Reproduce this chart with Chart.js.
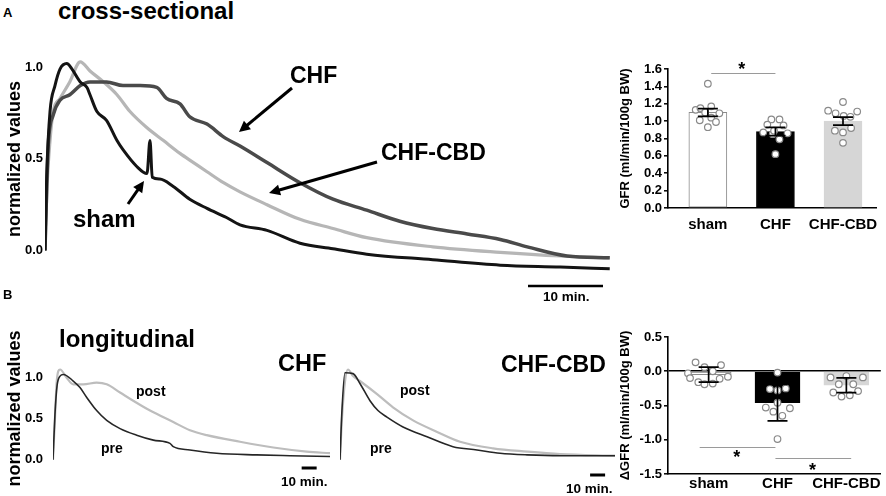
<!DOCTYPE html>
<html><head><meta charset="utf-8">
<script src="https://cdn.jsdelivr.net/npm/chart.js@4.4.1/dist/chart.umd.min.js"></script>
<style>
html,body{margin:0;padding:0;background:#fff;}
#wrap{position:relative;width:886px;height:496px;overflow:hidden;font-family:'Liberation Sans',Arial,sans-serif;color:#000;background:#fff;}
canvas{position:absolute;}
.t{position:absolute;line-height:1;white-space:nowrap;font-weight:bold;}
svg{position:absolute;left:0;top:0;pointer-events:none;}
</style></head><body>
<div id="wrap">
<canvas id="cA" width="620" height="260" style="left:0;top:30px;width:620px;height:260px"></canvas>
<canvas id="cAbar" width="286" height="175" style="left:600px;top:55px;width:286px;height:175px"></canvas>
<canvas id="cB1" width="340" height="172" style="left:0;top:320px;width:340px;height:172px"></canvas>
<canvas id="cB2" width="290" height="172" style="left:335px;top:320px;width:290px;height:172px"></canvas>
<canvas id="cBbar" width="286" height="176" style="left:600px;top:320px;width:286px;height:176px"></canvas>

<div class="t" style="left:3px;top:6px;font-size:13px">A</div>
<div class="t" style="left:58px;top:-1px;font-size:24px">cross-sectional</div>
<div class="t" style="left:290px;top:64px;font-size:23px">CHF</div>
<div class="t" style="left:381px;top:141px;font-size:23px">CHF-CBD</div>
<div class="t" style="left:73px;top:207px;font-size:24px">sham</div>
<div class="t" style="left:543px;top:290px;font-size:13.5px">10 min.</div>

<div class="t" style="left:3px;top:288px;font-size:13px">B</div>
<div class="t" style="left:59px;top:327px;font-size:24px">longitudinal</div>
<div class="t" style="left:278px;top:352px;font-size:23.5px">CHF</div>
<div class="t" style="left:501px;top:353px;font-size:23px">CHF-CBD</div>
<div class="t" style="left:136px;top:384px;font-size:14px">post</div>
<div class="t" style="left:101px;top:441px;font-size:14px">pre</div>
<div class="t" style="left:400px;top:383px;font-size:14px">post</div>
<div class="t" style="left:370px;top:441px;font-size:14px">pre</div>
<div class="t" style="left:281px;top:475px;font-size:13.5px">10 min.</div>
<div class="t" style="left:566px;top:482px;font-size:13.5px">10 min.</div>
<svg id="ov" width="886" height="496"></svg>
</div>
<script>
// ---------- DATA ----------
// Panel A (cross-sectional): time in minutes, normalized values
const aShamT = [0,0.23,0.67,1.33,2.0,2.9,3.6,4.7,5.6,6.0,6.9,8.2,9.6,10.4,12.2,13.6,14.0,14.3,15.3,17.1,19.3,21.6,24.2,26.0,29.6,34.0,38.4,42.9,51.7,60.7,68.7,75.3];
const aShamV = [0,0.41,0.76,0.90,0.99,1.02,0.99,0.92,0.89,0.85,0.76,0.71,0.60,0.55,0.46,0.42,0.60,0.40,0.39,0.35,0.28,0.23,0.18,0.14,0.11,0.04,0.01,-0.02,-0.05,-0.08,-0.09,-0.10];
const aChfT = [0,0.2,0.44,1.1,2.0,3.3,4.7,6.0,8.2,10.4,12.7,14.9,16.2,18.0,19.3,21.6,23.8,26.0,29.6,34.0,38.4,42.9,47.3,51.7,56.3,60.7,64.3,69.6,75.3];
const aChfV = [0,0.30,0.58,0.74,0.82,0.85,0.90,0.92,0.92,0.90,0.90,0.89,0.83,0.80,0.73,0.69,0.62,0.57,0.48,0.37,0.28,0.22,0.16,0.12,0.09,0.06,0.02,-0.03,-0.04];
const aCbdT = [0,0.27,0.67,1.1,2.0,3.3,4.7,6.0,7.8,9.6,11.3,13.6,15.8,18.0,19.8,21.6,23.8,26.0,29.6,34.0,38.4,42.9,51.7,60.7,68.7,75.3];
const aCbdV = [0,0.35,0.60,0.76,0.83,0.92,1.03,0.98,0.92,0.85,0.76,0.67,0.60,0.53,0.48,0.43,0.37,0.32,0.25,0.17,0.12,0.07,0.02,-0.01,-0.03,-0.04];
const normTicks = [0, 0.5, 1.0];

// Panel B (longitudinal), CHF group
const bChfPreT = [0,1.3,2.7,4.7,6.9,13.5,18.0,22.5,29.1,35.8,44.7,55.8,66.9,78.0,80.2,91.3,109.1,135.8,158.0,184.7];
const bChfPreV = [0,0.55,0.90,1.02,1.04,0.96,0.88,0.76,0.60,0.48,0.38,0.30,0.24,0.20,0.16,0.12,0.08,0.06,0.05,0.04];
const bChfPostT = [0,1.3,2.5,4.7,9.1,13.5,20.2,29.1,35.8,44.7,53.5,64.7,80.2,91.3,102.5,124.7,146.9,169.1,184.7];
const bChfPostV = [0,0.50,0.96,1.10,1.00,0.92,0.92,0.94,0.92,0.82,0.72,0.60,0.46,0.36,0.30,0.22,0.15,0.10,0.08];
// Panel B, CHF-CBD group
const bCbdPreT = [0,1.3,3.3,8.7,13.3,20.0,25.3,31.3,42.0,58.0,75.3,91.3,106.7,124.7,146.7,183.3];
const bCbdPreV = [0,0.60,1.06,1.05,0.93,0.72,0.60,0.52,0.40,0.28,0.16,0.12,0.08,0.06,0.05,0.05];
const bCbdPostT = [0,1.3,3.3,5.3,8.7,13.3,24.7,35.3,48.7,64.7,80.0,102.0,124.7,146.7,183.3];
const bCbdPostV = [0,0.50,0.95,1.10,1.02,0.96,0.80,0.64,0.48,0.34,0.22,0.14,0.10,0.07,0.05];

// Bar charts
const groups = ['sham', 'CHF', 'CHF-CBD'];
const gfrMean = [1.10, 0.88, 1.00];
const gfrSem = [0.045, 0.047, 0.045];
const gfrSham = [1.43, 1.13, 1.15, 1.17, 1.09, 1.10, 1.04, 1.01, 0.99, 0.93];
const gfrChf = [1.02, 1.02, 0.96, 0.95, 0.87, 0.85, 0.86, 0.79, 0.62, 0.89];
const gfrCbd = [1.22, 1.12, 1.11, 1.09, 1.06, 1.05, 0.92, 0.89, 0.87, 0.75];
const gfrShamJit = [0, -0.18, -0.11, 0.05, 0.17, -0.04, 0.05, -0.12, 0.12, 0];
const gfrChfJit = [-0.06, 0.06, -0.12, 0.12, -0.18, -0.04, 0.18, 0.06, 0, -0.02];
const gfrCbdJit = [0, -0.22, 0.21, -0.11, 0.01, 0.11, 0.12, -0.12, 0, 0];

const dMean = [-0.05, -0.457, -0.204];
const dSem = [0.11, 0.266, 0.107];
const dSham = [0.13, 0.06, 0.09, 0.0, -0.03, -0.08, -0.10, -0.16, -0.19, -0.18, -0.11];
const dChf = [-0.02, -0.26, -0.28, -0.25, -0.46, -0.53, -0.54, -0.59, -0.65, -0.99];
const dCbd = [-0.09, -0.07, -0.09, -0.19, -0.19, -0.31, -0.29, -0.37, -0.35];
const dShamJit = [-0.19, -0.06, 0.18, 0.06, -0.30, 0.28, -0.27, -0.15, -0.06, 0.06, 0.16];
const dChfJit = [0, -0.11, 0, 0.12, 0, -0.17, 0.18, -0.06, 0.07, 0];
const dCbdJit = [-0.23, 0, 0.24, -0.11, 0.10, -0.19, 0.17, -0.07, 0.05];

// ---------- SETUP ----------
const FONT = "'Liberation Sans', Arial, sans-serif";
Chart.defaults.font.family = FONT;
Chart.defaults.font.weight = 'bold';
Chart.defaults.color = '#000';

const pts = (t, v) => t.map((x, i) => ({x: x, y: v[i]}));
const dots = (vals, jit, g) => vals.map((v, i) => ({x: g + jit[i], y: v}));

// draws a 10-minute scale bar from the chart's own x scale
const scaleBar = {
  id: 'scaleBar',
  afterDraw(chart, args, o) {
    if (!o || o.t0 === undefined) return;
    const {ctx} = chart, x = chart.scales.x;
    ctx.save(); ctx.strokeStyle = '#000'; ctx.lineWidth = o.w;
    ctx.beginPath();
    ctx.moveTo(x.getPixelForValue(o.t0), o.py);
    ctx.lineTo(x.getPixelForValue(o.t0 + 10), o.py);
    ctx.stroke(); ctx.restore();
  }
};

// error bars (mean ± SEM) + significance brackets
const errBars = {
  id: 'errBars',
  afterDatasetsDraw(chart, args, o) {
    if (!o || !o.mean) return;
    const {ctx} = chart, x = chart.scales.x, y = chart.scales.y;
    ctx.save();
    ctx.strokeStyle = '#000'; ctx.lineWidth = 1.7;
    o.mean.forEach((m, i) => {
      const px = x.getPixelForValue(i);
      const hi = y.getPixelForValue(m + o.sem[i]);
      const lo = y.getPixelForValue(m - o.sem[i]);
      ctx.beginPath();
      ctx.moveTo(px, hi); ctx.lineTo(px, lo);
      ctx.moveTo(px - o.cap, hi); ctx.lineTo(px + o.cap, hi);
      ctx.moveTo(px - o.cap, lo); ctx.lineTo(px + o.cap, lo);
      ctx.stroke();
    });
    (o.sig || []).forEach(s => {
      ctx.strokeStyle = '#9a9a9a'; ctx.lineWidth = 1;
      const yy = Math.round(y.getPixelForValue(s.y)) + 0.5;
      ctx.beginPath();
      ctx.moveTo(x.getPixelForValue(s.x1), yy);
      ctx.lineTo(x.getPixelForValue(s.x2), yy);
      ctx.stroke();
      ctx.fillStyle = '#000';
      ctx.font = 'bold 18px ' + FONT;
      ctx.textAlign = 'center'; ctx.textBaseline = 'alphabetic';
      ctx.fillText('*', x.getPixelForValue(s.sx), y.getPixelForValue(s.sy) + 10);
    });
    ctx.restore();
  }
};

function lineChart(id, datasets, xmax, pad, yw, showY, tickPad, bar, ymin, ymax) {
  return new Chart(document.getElementById(id), {
    type: 'line',
    data: {datasets: datasets},
    options: {
      responsive: false, animation: false, events: [],
      layout: {padding: pad},
      plugins: {legend: {display: false}, tooltip: {enabled: false}, scaleBar: bar},
      elements: {point: {radius: 0}, line: {cubicInterpolationMode: 'monotone'}},
      scales: {
        x: {type: 'linear', min: 0, max: xmax, display: false},
        y: {
          type: 'linear', min: ymin, max: ymax,
          display: showY,
          afterFit: s => { s.width = yw; },
          afterBuildTicks: s => { s.ticks = normTicks.map(v => ({value: v})); },
          grid: {display: false, drawTicks: false},
          border: {display: false},
          ticks: {font: {size: 13, weight: 'bold'}, color: '#000', padding: tickPad, autoSkip: false,
                  callback: v => Number(v).toFixed(1)},
          title: {display: true, text: 'normalized values', color: '#000',
                  font: {size: 18, weight: 'bold'}, padding: {top: 4, bottom: 0}}
        }
      }
    },
    plugins: [scaleBar]
  });
}

lineChart('cA', [
  {data: pts(aShamT, aShamV), borderColor: '#141414', borderWidth: 3},
  {data: pts(aChfT, aChfV), borderColor: '#4a4a4a', borderWidth: 3.5},
  {data: pts(aCbdT, aCbdV), borderColor: '#b6b6b6', borderWidth: 3.2}
], 75.6, {left: 0, right: 8, top: 4, bottom: 12}, 45, true, 2, {t0: 64.4, py: 256, w: 2.5}, -0.15, 1.15);

lineChart('cB1', [
  {data: pts(bChfPreT, bChfPreV), borderColor: '#262626', borderWidth: 1.6},
  {data: pts(bChfPostT, bChfPostV), borderColor: '#bdbdbd', borderWidth: 2.2}
], 184.7, {left: 0, right: 10, top: 29, bottom: 24}, 53, true, 10, {t0: 165.8, py: 148, w: 3}, -0.1, 1.35);

lineChart('cB2', [
  {data: pts(bCbdPreT, bCbdPreV), borderColor: '#262626', borderWidth: 1.6},
  {data: pts(bCbdPostT, bCbdPostV), borderColor: '#bdbdbd', borderWidth: 2.2}
], 183.3, {left: 5, right: 10, top: 29, bottom: 24}, 0, false, 0, {t0: 166.7, py: 155, w: 3}, -0.1, 1.35);

function barChart(id, mean, sem, groupsDots, o) {
  const dotSets = groupsDots.map(d => ({
    type: 'scatter', order: 0, data: d,
    pointRadius: 3.3, pointBackgroundColor: '#fff', pointBorderColor: '#8a8a8a', pointBorderWidth: 1.2
  }));
  return new Chart(document.getElementById(id), {
    type: 'bar',
    data: {datasets: [
      ...dotSets,
      {type: 'bar', order: 1, data: mean.map((m, i) => ({x: i, y: m})),
       backgroundColor: ['#ffffff', '#000000', '#d6d6d6'],
       borderColor: ['#8a8a8a', '#000000', '#d6d6d6'], borderWidth: 1,
       barThickness: o.bw, borderSkipped: false}
    ]},
    options: {
      responsive: false, animation: false, events: [],
      layout: {padding: o.pad},
      plugins: {legend: {display: false}, tooltip: {enabled: false},
                errBars: {mean: mean, sem: sem, cap: 10, sig: o.sig}},
      scales: {
        x: {type: 'linear', min: -0.59, max: 2.5, offset: false,
            afterFit: s => { s.height = 22; },
            afterBuildTicks: s => { s.ticks = groups.map((g, i) => ({value: i})); },
            ticks: {font: {size: 15, weight: 'bold'}, color: '#000', padding: o.xpad, autoSkip: false,
                    maxRotation: 0, callback: v => groups[v]},
            grid: {display: true, drawOnChartArea: false, drawTicks: false, offset: false},
            border: {display: true, color: '#000', width: 1.6}},
        y: {type: 'linear', min: o.ymin, max: o.ymax,
            afterFit: s => { s.width = 68; },
            ticks: {stepSize: o.step, font: {size: 13, weight: 'bold'}, color: '#000', padding: 2,
                    autoSkip: false, callback: v => Number(v).toFixed(1)},
            grid: {display: true, drawOnChartArea: o.zero, drawTicks: true, tickLength: 4,
                   tickColor: '#000', tickWidth: 1.5, lineWidth: 1.6,
                   color: c => (c.tick && Math.abs(c.tick.value) < 1e-9) ? '#000' : 'rgba(0,0,0,0)'},
            border: {display: true, color: '#000', width: 1.6},
            title: {display: true, text: o.title, color: '#000',
                    font: {size: 13, weight: 'bold'}, padding: {top: 18, bottom: 0}}}
      }
    },
    plugins: [errBars]
  });
}

barChart('cAbar', gfrMean, gfrSem,
  [dots(gfrSham, gfrShamJit, 0), dots(gfrChf, gfrChfJit, 1), dots(gfrCbd, gfrCbdJit, 2)],
  {pad: {left: 0, right: 2, top: 14, bottom: 0}, bw: 38, xpad: 8, ymin: 0, ymax: 1.6, step: 0.2,
   zero: false, title: 'GFR (ml/min/100g BW)',
   sig: [{x1: 0.05, x2: 1.0, y: 1.55, sx: 0.5, sy: 1.645}]});

barChart('cBbar', dMean, dSem,
  [dots(dSham, dShamJit, 0), dots(dChf, dChfJit, 1), dots(dCbd, dCbdJit, 2)],
  {pad: {left: 0, right: 2, top: 17, bottom: 0}, bw: 45, xpad: 1, ymin: -1.5, ymax: 0.5, step: 0.5,
   zero: true, title: 'ΔGFR (ml/min/100g BW)',
   sig: [{x1: -0.13, x2: 0.97, y: -1.10, sx: 0.41, sy: -1.19},
         {x1: 0.97, x2: 2.07, y: -1.263, sx: 1.51, sy: -1.38}]});

// ---------- annotation arrows ----------
const NS = 'http://www.w3.org/2000/svg';
const ov = document.getElementById('ov');
function arrow(x1, y1, x2, y2) {
  const dx = x2 - x1, dy = y2 - y1, L = Math.hypot(dx, dy), ux = dx / L, uy = dy / L;
  const hl = 11, hw = 5.5;
  const bx = x2 - ux * hl, by = y2 - uy * hl;
  const ln = document.createElementNS(NS, 'line');
  ln.setAttribute('x1', x1); ln.setAttribute('y1', y1);
  ln.setAttribute('x2', bx + ux * 2); ln.setAttribute('y2', by + uy * 2);
  ln.setAttribute('stroke', '#000'); ln.setAttribute('stroke-width', '3');
  ov.appendChild(ln);
  const p = document.createElementNS(NS, 'polygon');
  p.setAttribute('points', `${x2},${y2} ${bx - uy * hw},${by + ux * hw} ${bx + uy * hw},${by - ux * hw}`);
  p.setAttribute('fill', '#000');
  ov.appendChild(p);
}
arrow(292, 88, 239, 132);
arrow(377, 162, 269, 193);
arrow(128, 204, 144, 181);
</script>
</body></html>
